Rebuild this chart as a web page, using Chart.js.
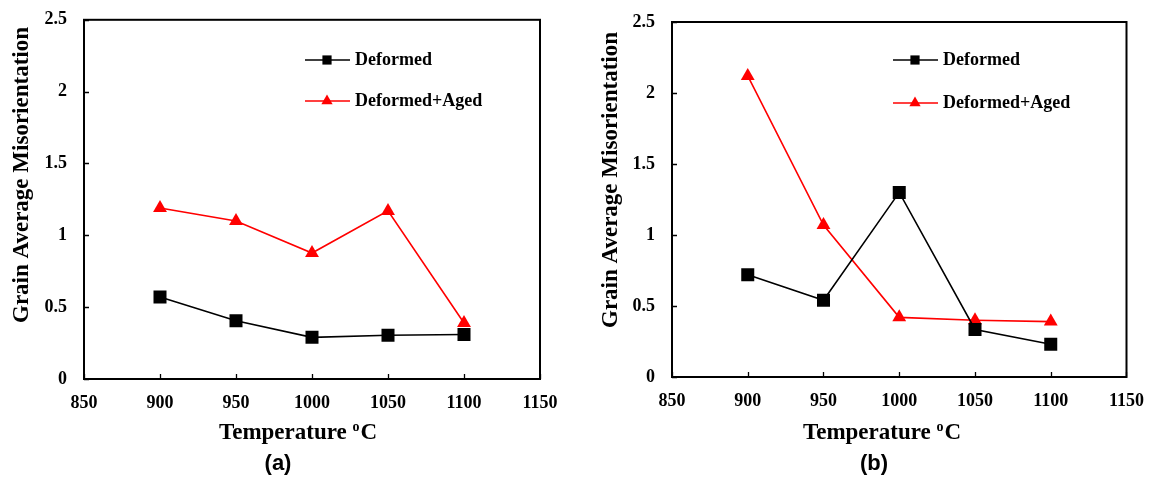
<!DOCTYPE html>
<html>
<head>
<meta charset="utf-8">
<script src="https://cdn.jsdelivr.net/npm/chart.js@4"></script>
<style>
  body { margin: 0; background: #fff; }
  .panel { position: absolute; top: 0; width: 575px; height: 481px; }
  .cap { position: absolute; font: bold 22px "Liberation Sans", Arial, sans-serif; color: #000; transform: translate(-50%, -50%); top: 463px; }
</style>
</head>
<body>
<div class="panel" style="left:0"><canvas id="chartA"></canvas></div>
<div class="panel" style="left:575px"><canvas id="chartB"></canvas></div>
<div class="cap" style="left:278px">(a)</div>
<div class="cap" style="left:874px">(b)</div>
<script>
const temps = [900, 950, 1000, 1050, 1100];
const xTicks = [850, 900, 950, 1000, 1050, 1100, 1150];
const yTicks = [0, 0.5, 1, 1.5, 2, 2.5];

const deformedA = [0.57, 0.405, 0.29, 0.305, 0.31];
const agedA = [1.19, 1.10, 0.877, 1.17, 0.39];
const deformedB = [0.72, 0.54, 1.30, 0.335, 0.23];
const agedB = [2.12, 1.07, 0.42, 0.40, 0.39];

const seriesNames = ["Deformed", "Deformed+Aged"];
const yTitle = "Grain Average Misorientation";
const xTitle = ["Temperature ", "o", "C"];

const serif = "'Liberation Serif', 'Times New Roman', serif";

// dibuja marco, ticks hacia dentro, titulos y leyenda
const extras = {
  id: "extras",
  afterDatasetsDraw(chart, args, opts) {
    const { ctx, chartArea: a, scales } = chart;
    ctx.save();
    ctx.strokeStyle = "#000";
    ctx.lineWidth = 2;
    ctx.strokeRect(a.left, a.top, a.right - a.left, a.bottom - a.top);

    ctx.lineWidth = 1.3;
    ctx.beginPath();
    xTicks.forEach(v => {
      const px = Math.round(scales.x.getPixelForValue(v)) + 0.5;
      ctx.moveTo(px, a.bottom);
      ctx.lineTo(px, a.bottom - 5);
    });
    yTicks.forEach(v => {
      const py = Math.round(scales.y.getPixelForValue(v)) + 0.5;
      ctx.moveTo(a.left, py);
      ctx.lineTo(a.left + 5, py);
    });
    ctx.stroke();

    ctx.fillStyle = "#000";
    // titulo eje y
    ctx.font = "bold 23px " + serif;
    ctx.textAlign = "center";
    ctx.textBaseline = "middle";
    ctx.save();
    ctx.translate(opts.yTitleX, opts.yTitleY);
    ctx.rotate(-Math.PI / 2);
    ctx.fillText(yTitle, 0, 0);
    ctx.restore();

    // titulo eje x con superindice
    ctx.textAlign = "left";
    ctx.textBaseline = "alphabetic";
    const big = "bold 23px " + serif, small = "bold 14px " + serif;
    ctx.font = big;
    const w1 = ctx.measureText(xTitle[0]).width;
    const w3 = ctx.measureText(xTitle[2]).width;
    ctx.font = small;
    const w2 = ctx.measureText(xTitle[1]).width + 1;
    let x0 = opts.xTitleX - (w1 + w2 + w3) / 2;
    const base = opts.xTitleY + 8;
    ctx.font = big;
    ctx.fillText(xTitle[0], x0, base);
    ctx.font = small;
    ctx.fillText(xTitle[1], x0 + w1, base - 8);
    ctx.font = big;
    ctx.fillText(xTitle[2], x0 + w1 + w2, base);

    // leyenda
    ctx.font = "bold 18px " + serif;
    ctx.textBaseline = "middle";
    chart.data.datasets.forEach((ds, i) => {
      const y = opts.legendY[i];
      ctx.strokeStyle = ds.borderColor;
      ctx.lineWidth = 1.5;
      ctx.beginPath();
      ctx.moveTo(opts.legendX, y);
      ctx.lineTo(opts.legendX + 45, y);
      ctx.stroke();
      ctx.fillStyle = ds.backgroundColor;
      Chart.helpers.drawPoint(ctx, {
        pointStyle: ds.pointStyle, radius: ds.pointStyle === "rect" ? 6.5 : 6.5,
        rotation: 0, borderWidth: 0
      }, opts.legendX + 22, y);
      ctx.fillStyle = "#000";
      ctx.fillText(ds.label, opts.legendX + 50, y);
    });
    ctx.restore();
  }
};

// fija tamaño del eje para que el area de dibujo quede en su sitio
function fixWidth(w) { return s => { s.width = w; }; }
function fixHeight(h) { return s => { s.height = h; }; }

const crearGrafico = (id, deformed, aged, lay) => {
  const toPts = arr => arr.map((v, i) => ({ x: temps[i], y: v }));
  const tickFont = { family: serif, size: 18, weight: "bold" };
  return new Chart(document.getElementById(id), {
    type: "line",
    data: {
      datasets: [
        {
          label: seriesNames[0], data: toPts(deformed),
          borderColor: "#000", backgroundColor: "#000",
          borderWidth: 1.6, pointStyle: "rect", pointRadius: 9.2,
          pointBorderWidth: 0, pointHoverRadius: 9.2
        },
        {
          label: seriesNames[1], data: toPts(aged),
          borderColor: "#ff0000", backgroundColor: "#ff0000",
          borderWidth: 1.6, pointStyle: "triangle", pointRadius: 8,
          pointBorderWidth: 0, pointHoverRadius: 8
        }
      ]
    },
    options: {
      responsive: false,
      animation: false,
      layout: { padding: { left: 0, top: lay.top, right: 575 - lay.right, bottom: 481 - lay.bottom - 40 } },
      plugins: {
        legend: { display: false },
        tooltip: { enabled: false },
        extras: lay
      },
      scales: {
        x: {
          type: "linear", min: 850, max: 1150,
          afterBuildTicks: s => { s.ticks = xTicks.map(v => ({ value: v })); },
          afterFit: fixHeight(40),
          grid: { display: false },
          border: { display: false },
          ticks: { font: tickFont, color: "#000", padding: 6, maxRotation: 0, callback: v => String(v) }
        },
        y: {
          min: 0, max: 2.5,
          afterBuildTicks: s => { s.ticks = yTicks.map(v => ({ value: v })); },
          afterFit: fixWidth(lay.left),
          grid: { display: false },
          border: { display: false },
          ticks: { font: tickFont, color: "#000", padding: 9, callback: v => String(v) }
        }
      }
    },
    plugins: [extras]
  });
};

for (const id of ["chartA", "chartB"]) {
  const c = document.getElementById(id);
  c.width = 575; c.height = 481;
  c.style.width = "575px"; c.style.height = "481px";
}

crearGrafico("chartA", deformedA, agedA, {
  left: 84, right: 540, top: 19, bottom: 379,
  yTitleX: 22, yTitleY: 175, xTitleX: 298, xTitleY: 431,
  legendX: 305, legendY: [60, 101]
});
crearGrafico("chartB", deformedB, agedB, {
  left: 97, right: 553, top: 22, bottom: 377,
  yTitleX: 36, yTitleY: 180, xTitleX: 307, xTitleY: 431,
  legendX: 318, legendY: [60, 103]
});
</script>
</body>
</html>
